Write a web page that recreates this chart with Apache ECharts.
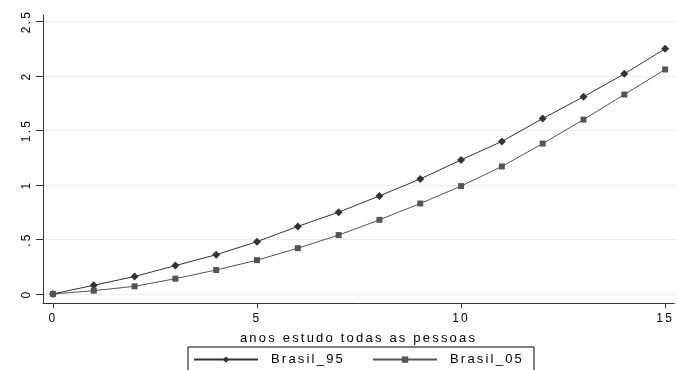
<!DOCTYPE html>
<html>
<head>
<meta charset="utf-8">
<script src="https://cdn.jsdelivr.net/npm/echarts@6/dist/echarts.min.js"></script>
<style>html,body{margin:0;padding:0;background:#fff;}#c{width:677px;height:370px;}</style>
</head>
<body>
<div id="c"></div>
<script>
var years = [0,1,2,3,4,5,6,7,8,9,10,11,12,13,14,15];
var brasil95 = [0, 0.08, 0.16, 0.26, 0.36, 0.48, 0.62, 0.75, 0.90, 1.055, 1.23, 1.40, 1.61, 1.81, 2.02, 2.25];
var brasil05 = [0, 0.03, 0.07, 0.14, 0.22, 0.31, 0.42, 0.54, 0.68, 0.83, 0.99, 1.17, 1.38, 1.60, 1.83, 2.06];
var xTicks = [0, 5, 10, 15];
var yTicks = [0, 0.5, 1, 1.5, 2, 2.5];
var yTickLabels = ['0', '.5', '1', '1.5', '2', '2.5'];
var seriesNames = ['Brasil_95', 'Brasil_05'];
var xTitle = 'anos estudo todas as pessoas';

// Stata-like tracked text: add letter spacing to canvas text rendering
(function(){
  try {
    var proto = CanvasRenderingContext2D.prototype;
    var desc = Object.getOwnPropertyDescriptor(proto, 'font');
    if (desc && desc.set && ('letterSpacing' in proto)) {
      Object.defineProperty(proto, 'font', {
        configurable: true, enumerable: desc.enumerable,
        get: desc.get,
        set: function(v){ desc.set.call(this, v); this.letterSpacing = '2.2px'; }
      });
    }
  } catch (e) {}
})();

var font = 'Liberation Sans, Arial, sans-serif';
function pairs(v){ return years.map(function(x,i){ return [x, v[i]]; }); }

var chart = echarts.init(document.getElementById('c'), null, {renderer:'canvas'});
chart.setOption({
  animation: false,
  backgroundColor: '#fff',
  grid: [
    {left: 43, right: 0, top: 15, bottom: 67},
    {left: 43, right: 0, top: 21.5, bottom: 76}
  ],
  legend: {
    data: seriesNames,
    left: 188, top: 347,
    padding: [5, 10, 6, 5],
    borderColor: '#000', borderWidth: 1,
    itemWidth: 64, itemHeight: 8, itemGap: 27,
    textStyle: {fontFamily: font, fontSize: 13, color: '#000', padding: [0,0,0,8]}
  },
  xAxis: [
    {
      type: 'value', gridIndex: 0, min: -0.244, max: 15.22,
      name: xTitle, nameLocation: 'middle', nameGap: 15,
      nameTextStyle: {fontFamily: font, fontSize: 13, color: '#000'},
      axisLine: {show: true, onZero: false, lineStyle: {color: '#333', width: 1}},
      axisTick: {show: true, length: 5, customValues: xTicks, lineStyle: {color: '#333'}},
      axisLabel: {customValues: xTicks, margin: 9, fontFamily: font, fontSize: 12, color: '#000'},
      splitLine: {show: false}
    },
    {type: 'value', gridIndex: 1, min: -0.244, max: 15.22, show: false}
  ],
  yAxis: [
    {
      type: 'value', gridIndex: 0, min: -0.083, max: 2.56,
      axisLine: {show: true, onZero: false, lineStyle: {color: '#333', width: 1}},
      axisTick: {show: true, length: 7, customValues: yTicks, lineStyle: {color: '#333'}},
      axisLabel: {
        customValues: yTicks, rotate: 90, margin: 9,
        fontFamily: font, fontSize: 12, color: '#000',
        formatter: function(v){ var i = yTicks.indexOf(v); return i >= 0 ? yTickLabels[i] : ''; }
      },
      splitLine: {show: false}
    },
    {
      type: 'value', gridIndex: 1, min: 0, max: 2.5, interval: 0.5,
      axisLine: {show: false}, axisTick: {show: false}, axisLabel: {show: false},
      splitLine: {show: true, lineStyle: {color: '#ececec', width: 1}}
    }
  ],
  series: [
    {
      name: seriesNames[0], type: 'line', xAxisIndex: 0, yAxisIndex: 0,
      data: pairs(brasil95),
      symbol: 'diamond', symbolSize: 8,
      lineStyle: {color: '#333', width: 1},
      itemStyle: {color: '#333'}
    },
    {
      name: seriesNames[1], type: 'line', xAxisIndex: 0, yAxisIndex: 0,
      data: pairs(brasil05),
      symbol: 'rect', symbolSize: 6,
      lineStyle: {color: '#555', width: 1},
      itemStyle: {color: '#555'}
    }
  ]
});
</script>
</body>
</html>
